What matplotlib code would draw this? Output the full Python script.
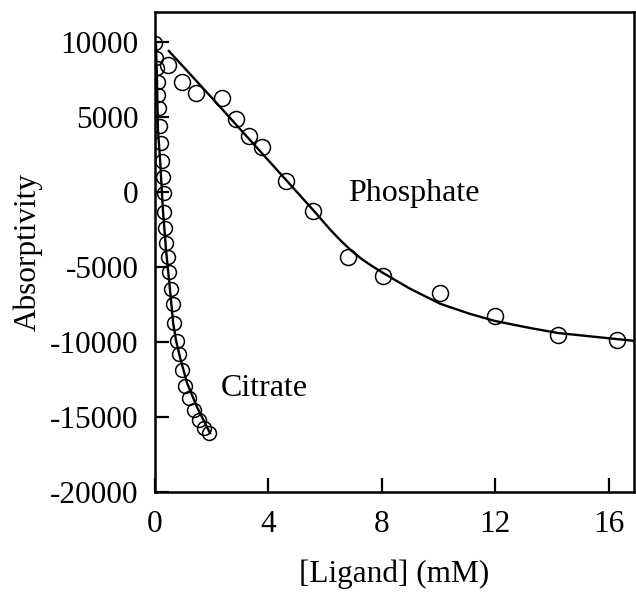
import numpy as np
import matplotlib
matplotlib.use("Agg")
import matplotlib.pyplot as plt

plt.rcParams['font.family'] = ['Liberation Serif', 'DejaVu Serif']
plt.rcParams['axes.unicode_minus'] = False

# %% data
# Phosphate titration (points and fitted curve)
phos_x = [0.46, 0.95, 1.45, 2.37, 2.86, 3.32, 3.78, 4.62, 5.58, 6.81, 8.05, 10.06, 12.0, 14.22, 16.31]
phos_y = [8470, 7330, 6600, 6270, 4870, 3730, 3000, 730, -1270, -4330, -5600, -6730, -8270, -9530, -9870]
phos_fit_x = [0.49, 2.01, 3.99, 5.58, 6.2, 6.6, 6.95, 7.3, 7.65, 8.05, 8.5, 9.0, 10.06, 11.12, 12.0, 13.24, 14.22, 15.6, 16.94]
phos_fit_y = [9400, 6270, 2130, -1200, -2550, -3330, -3950, -4480, -4930, -5400, -5900, -6450, -7450, -8130, -8600, -9070, -9400, -9670, -9930]

# Citrate titration (points and fitted curve)
cit_x = [0.0, 0.035, 0.07, 0.105, 0.105, 0.14, 0.18, 0.21, 0.25, 0.28, 0.32, 0.32, 0.35, 0.39,
         0.46, 0.49, 0.56, 0.64, 0.67, 0.78, 0.85, 0.95, 1.06, 1.20, 1.38, 1.55, 1.73, 1.91]
cit_y = [9930, 8930, 8270, 7330, 6470, 5600, 4400, 3270, 2070, 1000, -70, -1330, -2400, -3400,
         -4330, -5330, -6470, -7470, -8730, -9930, -10800, -11870, -12930, -13730, -14530, -15200, -15730, -16070]
cit_fit_x = [0.035, 0.07, 0.105, 0.18, 0.28, 0.39, 0.53, 0.64, 0.74, 0.88, 1.13, 1.48, 1.94]
cit_fit_y = [9800, 7470, 4130, 2130, -1200, -3870, -6530, -8730, -9870, -11000, -12730, -14330, -16070]

x_ticks = [0, 4, 8, 12, 16]
y_ticks = [-20000, -15000, -10000, -5000, 0, 5000, 10000]

# %% plot
fig = plt.figure(figsize=(6.36, 6.06), dpi=100)
ax = fig.add_axes([0.2437, 0.1881, 0.7532, 0.7921])

ax.plot(phos_fit_x, phos_fit_y, color='black', lw=1.7)
ax.plot(cit_fit_x, cit_fit_y, color='black', lw=1.7)
ax.plot(phos_x, phos_y, 'o', mfc='none', mec='black', ms=11.5, mew=1.1)
ax.plot(cit_x, cit_y, 'o', mfc='none', mec='black', ms=10, mew=1.1)

ax.text(9.14, -130, 'Phosphate', fontsize=23, ha='center', va='center')
ax.text(3.85, -13130, 'Citrate', fontsize=23, ha='center', va='center')

ax.set_xlim(0, 16.9)
ax.set_ylim(-20000, 12000)
ax.set_xticks(x_ticks)
ax.set_yticks(y_ticks)
ax.tick_params(direction='in', length=10, width=1.6, labelsize=22.5)
ax.tick_params(axis='x', pad=13)
ax.tick_params(axis='y', pad=12)
for s in ax.spines.values():
    s.set_linewidth(1.8)

ax.set_xlabel('[Ligand] (mM)', fontsize=22.5, labelpad=15)
ax.set_ylabel('Absorptivity', fontsize=22.5, labelpad=5)

fig.savefig('out.png', dpi=100)
